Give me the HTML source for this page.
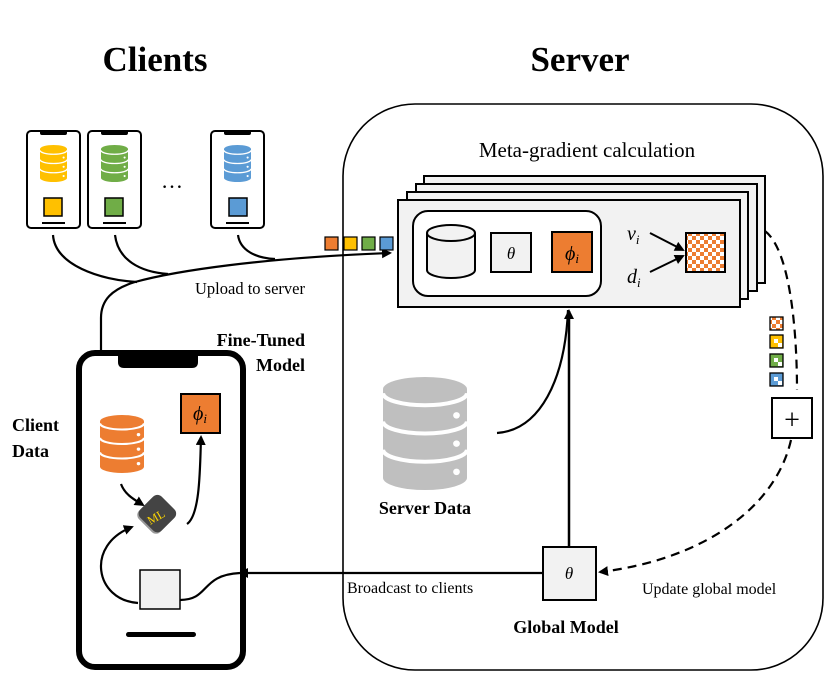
<!DOCTYPE html>
<html><head><style>body{margin:0;background:#fff}svg{display:block}text{font-family:"Liberation Serif",serif}</style></head><body>
<svg width="830" height="683" viewBox="0 0 830 683" xmlns="http://www.w3.org/2000/svg">
<defs>
<pattern id="chk" width="8" height="8" patternUnits="userSpaceOnUse"><rect width="8" height="8" fill="#fff"/><rect width="4" height="4" fill="#ED7D31"/><rect x="4" y="4" width="4" height="4" fill="#ED7D31"/></pattern>
<marker id="ar" markerWidth="10" markerHeight="10" refX="8" refY="5" orient="auto" markerUnits="userSpaceOnUse"><path d="M0,0 L10,5 L0,10 z" fill="#000"/></marker>
<symbol id="db" viewBox="0 0 40 56" preserveAspectRatio="none"><path d="M0,6 A20,6 0 0 1 40,6 V50 A20,6 0 0 1 0,50 Z" fill="currentColor"/><path d="M0,8 A20,6 0 0 0 40,8 M0,22 A20,6 0 0 0 40,22 M0,36 A20,6 0 0 0 40,36" fill="none" stroke="#fff" stroke-width="2"/><circle cx="35" cy="19" r="1.6" fill="#fff"/><circle cx="35" cy="33" r="1.6" fill="#fff"/><circle cx="35" cy="47" r="1.6" fill="#fff"/></symbol>
</defs>
<text x="155" y="71" font-size="35" font-weight="bold" text-anchor="middle">Clients</text>
<text x="580" y="71" font-size="35" font-weight="bold" text-anchor="middle">Server</text>
<rect x="343" y="104" width="480" height="566" rx="72" fill="none" stroke="#000" stroke-width="1.6"/>
<text x="587" y="157" font-size="21" text-anchor="middle">Meta-gradient calculation</text>
<g stroke="#000" stroke-width="2" fill="#fff">
<rect x="27" y="131" width="53" height="97" rx="4"/><rect x="88" y="131" width="53" height="97" rx="4"/><rect x="211" y="131" width="53" height="97" rx="4"/></g>
<g fill="#000"><rect x="40" y="130" width="27" height="5" rx="2"/><rect x="101" y="130" width="27" height="5" rx="2"/><rect x="224" y="130" width="27" height="5" rx="2"/>
<rect x="42" y="222" width="23" height="2"/><rect x="103" y="222" width="23" height="2"/><rect x="226" y="222" width="23" height="2"/></g>
<use href="#db" x="40" y="145" width="27" height="37" style="color:#FFC000"/>
<use href="#db" x="101" y="145" width="27" height="37" style="color:#70AD47"/>
<use href="#db" x="224" y="145" width="27" height="37" style="color:#5B9BD5"/>
<g stroke="#000" stroke-width="1.5"><rect x="44" y="198" width="18" height="18" fill="#FFC000"/><rect x="105" y="198" width="18" height="18" fill="#70AD47"/><rect x="229" y="198" width="18" height="18" fill="#5B9BD5"/></g>
<text x="172" y="188" font-size="22" text-anchor="middle">…</text>
<g fill="none" stroke="#000" stroke-width="2.2">
<path d="M53,235 C55,265 100,280 137,282"/>
<path d="M115,235 C118,260 140,272 168,274"/>
<path d="M238,235 C240,250 255,258 275,259"/>
<path d="M101,352 V318 C101,300 112,289 135,282 C175,271 260,258 390,253" marker-end="url(#ar)"/>
</g>
<text x="195" y="294" font-size="16.5">Upload to server</text>
<g stroke="#000" stroke-width="1.2"><rect x="325" y="237" width="13" height="13" fill="#ED7D31"/><rect x="344" y="237" width="13" height="13" fill="#FFC000"/><rect x="362" y="237" width="13" height="13" fill="#70AD47"/><rect x="380" y="237" width="13" height="13" fill="#5B9BD5"/></g>
<g stroke="#000" stroke-width="2" fill="#f2f2f2">
<rect x="424" y="176" width="341" height="107"/><rect x="416" y="184" width="341" height="107"/><rect x="407" y="192" width="341" height="107"/><rect x="398" y="200" width="342" height="107"/></g>
<rect x="413" y="211" width="188" height="85" rx="15" fill="#fff" stroke="#000" stroke-width="2"/>
<path d="M427,233 V270 A24,8 0 0 0 475,270 V233" fill="#f2f2f2" stroke="#000" stroke-width="2"/>
<ellipse cx="451" cy="233" rx="24" ry="8" fill="#f2f2f2" stroke="#000" stroke-width="2"/>
<rect x="491" y="233" width="40" height="39" fill="#f2f2f2" stroke="#000" stroke-width="2"/>
<text x="511" y="259" font-size="17" font-style="italic" text-anchor="middle">θ</text>
<rect x="552" y="232" width="40" height="40" fill="#ED7D31" stroke="#000" stroke-width="2"/>
<text x="572" y="260" font-size="20" font-style="italic" text-anchor="middle">ϕ<tspan font-size="13" dy="3">i</tspan></text>
<text x="627" y="240" font-size="20" font-style="italic">v<tspan font-size="13" dy="4">i</tspan></text>
<text x="627" y="283" font-size="20" font-style="italic">d<tspan font-size="13" dy="4">i</tspan></text>
<g stroke="#000" stroke-width="2" fill="none"><path d="M650,233 L683,250" marker-end="url(#ar)"/><path d="M650,272 L683,256" marker-end="url(#ar)"/></g>
<rect x="686" y="233" width="39" height="39" fill="url(#chk)" stroke="#000" stroke-width="2"/>
<path d="M765,231 C790,250 797,330 797,390" fill="none" stroke="#000" stroke-width="2.2" stroke-dasharray="9,6"/>
<g stroke="#000" stroke-width="1.3"><rect x="770" y="317" width="13" height="13" fill="url(#chk)"/><rect x="770" y="335" width="13" height="13" fill="#FFC000"/><rect x="770" y="354" width="13" height="13" fill="#70AD47"/><rect x="770" y="373" width="13" height="13" fill="#5B9BD5"/></g>
<g fill="#fff"><rect x="774" y="339" width="4" height="4"/><rect x="778" y="343" width="4" height="4"/><rect x="774" y="358" width="4" height="4"/><rect x="778" y="362" width="4" height="4"/><rect x="774" y="377" width="4" height="4"/><rect x="778" y="381" width="4" height="4"/></g>
<rect x="772" y="398" width="40" height="40" fill="#fff" stroke="#000" stroke-width="2"/>
<text x="792" y="429" font-size="28" text-anchor="middle">+</text>
<path d="M791,440 C775,510 700,560 600,572" fill="none" stroke="#000" stroke-width="2.2" stroke-dasharray="9,6" marker-end="url(#ar)"/>
<text x="642" y="594" font-size="16">Update global model</text>
<use href="#db" x="383" y="377" width="84" height="113" style="color:#bfbfbf"/>
<text x="425" y="514" font-size="18" font-weight="bold" text-anchor="middle">Server Data</text>
<path d="M497,433 C540,430 565,380 568,310" fill="none" stroke="#000" stroke-width="2.2"/>
<path d="M569,547 V311" fill="none" stroke="#000" stroke-width="2.5" marker-end="url(#ar)"/>
<rect x="543" y="547" width="53" height="53" fill="#f2f2f2" stroke="#000" stroke-width="2"/>
<text x="569" y="579" font-size="17" font-style="italic" text-anchor="middle">θ</text>
<text x="566" y="633" font-size="18" font-weight="bold" text-anchor="middle">Global Model</text>
<path d="M543,573 H240" fill="none" stroke="#000" stroke-width="2.2" marker-end="url(#ar)"/>
<text x="347" y="593" font-size="16">Broadcast to clients</text>
<rect x="79" y="353" width="164" height="314" rx="16" fill="#fff" stroke="#000" stroke-width="6"/>
<path d="M118,353 H198 V362 Q198,368 192,368 H124 Q118,368 118,362 Z" fill="#000"/>
<rect x="126" y="632" width="70" height="5" rx="2.5" fill="#000"/>
<text x="305" y="346" font-size="18" font-weight="bold" text-anchor="end">Fine-Tuned</text>
<text x="305" y="371" font-size="18" font-weight="bold" text-anchor="end">Model</text>
<text x="12" y="431" font-size="18" font-weight="bold">Client</text>
<text x="12" y="457" font-size="18" font-weight="bold">Data</text>
<use href="#db" x="100" y="415" width="44" height="58" style="color:#ED7D31"/>
<rect x="181" y="394" width="39" height="39" fill="#ED7D31" stroke="#000" stroke-width="2"/>
<text x="200" y="420" font-size="20" font-style="italic" text-anchor="middle">ϕ<tspan font-size="13" dy="3">i</tspan></text>
<g transform="translate(156,515) rotate(45)"><rect x="-15" y="-15" width="30" height="30" rx="6" fill="#999"/><rect x="-15" y="-17" width="30" height="30" rx="6" fill="#444"/></g>
<text x="156" y="521" font-size="12" fill="#FFD700" text-anchor="middle" transform="rotate(-30 156 517)">ML</text>
<g fill="none" stroke="#000" stroke-width="2.2">
<path d="M121,484 C125,495 135,500 143,505" marker-end="url(#ar)"/>
<path d="M187,524 C200,515 200,470 201,437" marker-end="url(#ar)"/>
<path d="M138,603 C95,600 85,545 132,527" marker-end="url(#ar)"/>
<path d="M180,600 C210,600 200,575 240,573"/>
</g>
<rect x="140" y="570" width="40" height="39" fill="#f2f2f2" stroke="#000" stroke-width="1.5"/>
</svg>
</body></html>
